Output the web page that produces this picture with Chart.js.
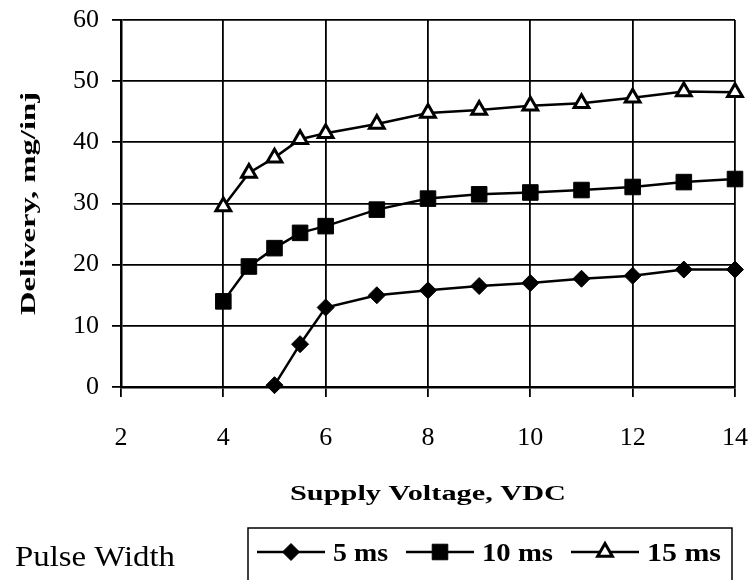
<!DOCTYPE html>
<html>
<head>
<meta charset="utf-8">
<script src="https://cdn.jsdelivr.net/npm/chart.js@4.4.1/dist/chart.umd.min.js"></script>
<style>
  html, body { margin: 0; padding: 0; background: #fff; }
</style>
</head>
<body>
<canvas id="chart" width="751" height="580"></canvas>
<script>
// values
const voltage5 = [5, 5.5, 6, 7, 8, 9, 10, 11, 12, 13, 14];
const delivery5 = [0.3, 7, 13, 15, 15.8, 16.5, 17, 17.7, 18.2, 19.2, 19.2];
const voltage10 = [4, 4.5, 5, 5.5, 6, 7, 8, 9, 10, 11, 12, 13, 14];
const delivery10 = [14, 19.7, 22.7, 25.2, 26.3, 29, 30.8, 31.5, 31.8, 32.2, 32.7, 33.5, 34];
const voltage15 = [4, 4.5, 5, 5.5, 6, 7, 8, 9, 10, 11, 12, 13, 14];
const delivery15 = [29.5, 35, 37.5, 40.5, 41.5, 43, 44.8, 45.3, 46, 46.4, 47.3, 48.3, 48.2];
const seriesLabels = ['5 ms', '10 ms', '15 ms'];
const xTicks = [2, 4, 6, 8, 10, 12, 14];
const yTicks = [0, 10, 20, 30, 40, 50, 60];

const SERIF = '"Liberation Serif", "Times New Roman", serif';

function toPoints(xs, ys) {
  return xs.map((x, i) => ({ x, y: ys[i] }));
}

// draw text squeezed/stretched to a given width (the scan uses a wide face)
function fitText(ctx, text, x, y, width, font, align) {
  ctx.save();
  ctx.font = font;
  const natural = ctx.measureText(text).width;
  const sx = width / natural;
  ctx.translate(x, y);
  ctx.scale(sx, 1);
  ctx.textAlign = align || 'left';
  ctx.fillText(text, 0, 0);
  ctx.restore();
}

const extrasPlugin = {
  id: 'extras',
  afterDraw(chart) {
    const { ctx, chartArea } = chart;
    ctx.save();
    ctx.fillStyle = '#000';
    ctx.textBaseline = 'alphabetic';

    // y title
    ctx.save();
    ctx.translate(29, (chartArea.top + chartArea.bottom) / 2);
    ctx.rotate(-Math.PI / 2);
    ctx.textBaseline = 'middle';
    fitText(ctx, 'Delivery, mg/inj', 0, 0, 223, 'bold 22px ' + SERIF, 'center');
    ctx.restore();

    // x title
    fitText(ctx, 'Supply Voltage, VDC', (chartArea.left + chartArea.right) / 2, 500, 276, 'bold 20px ' + SERIF, 'center');

    // legend caption
    fitText(ctx, 'Pulse Width', 15, 566, 160, '30px ' + SERIF, 'left');

    // legend box
    ctx.strokeStyle = '#000';
    ctx.lineWidth = 1.5;
    ctx.strokeRect(248, 528, 484, 70);

    const widths = [55, 71, 74];
    let x = 257;
    const ly = 552;
    chart.data.datasets.forEach((ds, i) => {
      ctx.strokeStyle = ds.borderColor;
      ctx.lineWidth = ds.borderWidth;
      ctx.beginPath();
      ctx.moveTo(x, ly);
      ctx.lineTo(x + 68, ly);
      ctx.stroke();
      ctx.fillStyle = ds.pointBackgroundColor;
      ctx.strokeStyle = ds.pointBorderColor;
      ctx.lineWidth = ds.pointBorderWidth;
      Chart.helpers.drawPoint(ctx, {
        pointStyle: ds.pointStyle,
        radius: ds.pointRadius,
        rotation: 0,
        borderWidth: ds.pointBorderWidth
      }, x + 34, ly);
      ctx.fillStyle = '#000';
      fitText(ctx, ds.label, x + 76, 561, widths[i], 'bold 25px ' + SERIF, 'left');
      x += 76 + widths[i] + 18;
    });
    ctx.restore();
  }
};

const lineStyle = { borderColor: '#000', borderWidth: 2.5, pointBorderColor: '#000', clip: false };

new Chart(document.getElementById('chart'), {
  type: 'line',
  data: {
    datasets: [
      {
        ...lineStyle,
        label: seriesLabels[0],
        data: toPoints(voltage5, delivery5),
        pointStyle: 'rectRot',
        pointRadius: 8.5,
        pointBackgroundColor: '#000',
        pointBorderWidth: 1
      },
      {
        ...lineStyle,
        label: seriesLabels[1],
        data: toPoints(voltage10, delivery10),
        pointStyle: 'rect',
        pointRadius: 11,
        pointBackgroundColor: '#000',
        pointBorderWidth: 1
      },
      {
        ...lineStyle,
        label: seriesLabels[2],
        data: toPoints(voltage15, delivery15),
        pointStyle: 'triangle',
        pointRadius: 8.5,
        pointBackgroundColor: '#fff',
        pointBorderWidth: 3
      }
    ]
  },
  options: {
    responsive: false,
    animation: false,
    layout: { padding: { top: 20, right: 16, bottom: 0, left: 0 } },
    plugins: { legend: { display: false }, tooltip: { enabled: false } },
    scales: {
      x: {
        type: 'linear',
        min: 2,
        max: 14,
        afterBuildTicks: (scale) => { scale.ticks = xTicks.map(v => ({ value: v })); },
        afterFit: (scale) => {
          scale.height = 193;
          scale.paddingLeft = 0;
          scale.paddingRight = 0;
        },
        grid: { color: '#000', lineWidth: 1.8, tickLength: 10 },
        border: { color: '#000', width: 2.5 },
        ticks: { color: '#000', padding: 26, maxRotation: 0, font: { family: SERIF, size: 26 } }
      },
      y: {
        min: 0,
        max: 60,
        afterBuildTicks: (scale) => { scale.ticks = yTicks.map(v => ({ value: v })); },
        afterFit: (scale) => {
          scale.width = 121;
          scale.paddingTop = 0;
          scale.paddingBottom = 0;
        },
        grid: { color: '#000', lineWidth: 1.8, tickLength: 9 },
        border: { color: '#000', width: 2.5 },
        ticks: { color: '#000', padding: 13, font: { family: SERIF, size: 26 } }
      }
    }
  },
  plugins: [extrasPlugin]
});
</script>
</body>
</html>
